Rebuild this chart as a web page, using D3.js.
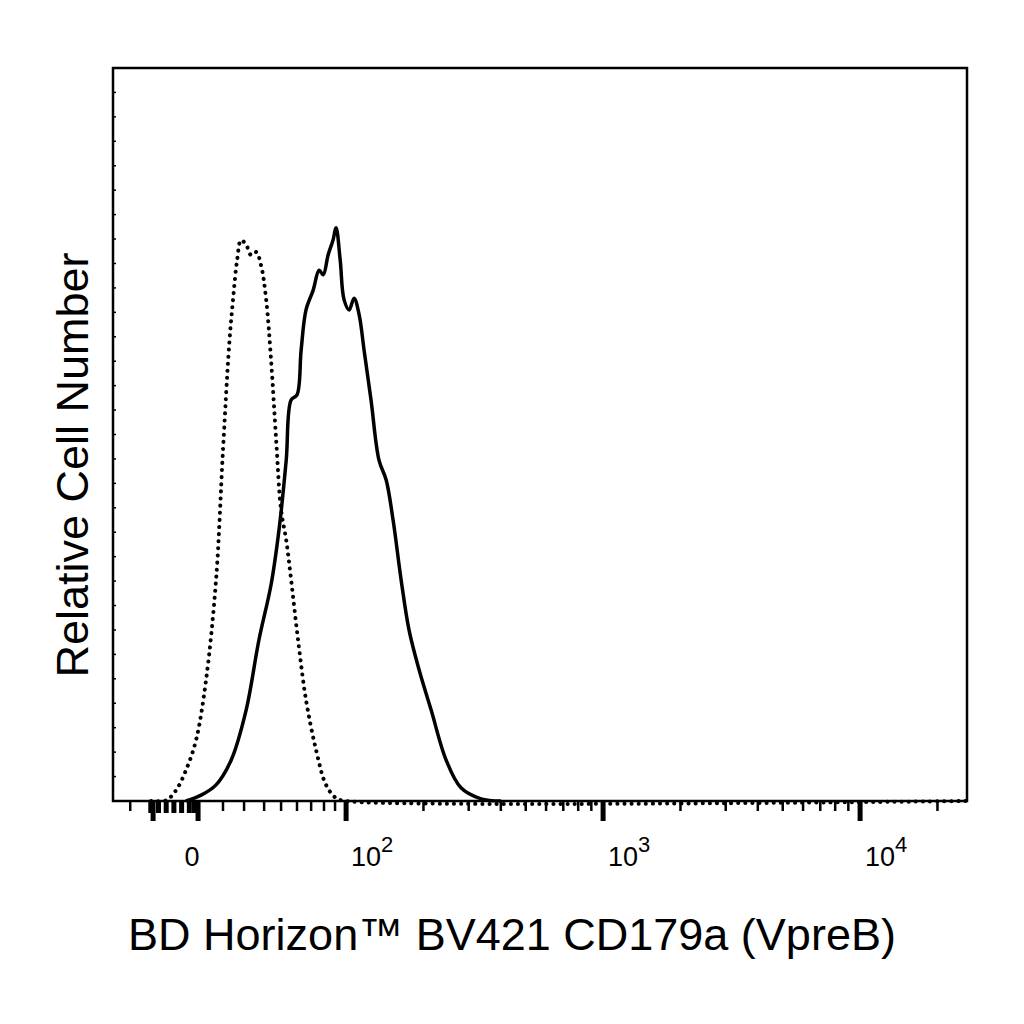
<!DOCTYPE html>
<html><head><meta charset="utf-8">
<script src="https://cdn.jsdelivr.net/npm/d3@7"></script>
<style>body{margin:0;background:#fff}</style>
</head><body><div id="chart"></div>
<script>
// x in display units (decades on the biexponential axis), y in % of plot height
const solidX = [1.377,1.436,1.494,1.553,1.611,1.661,1.708,1.739,1.767,1.786,1.809,1.825,1.844,1.872,1.895,1.911,1.930,1.949,1.961,1.977,1.992,2.012,2.031,2.051,2.070,2.097,2.128,2.156,2.183,2.214,2.245,2.284,2.331,2.389,2.447,2.525,2.603];
const solidY = [0,0.8,2.2,5.6,12.4,22,29.5,37,46.5,54.7,55.4,61.5,67,69.7,72.4,71.8,74.5,76.5,78.2,73.8,68.4,67,68.6,66.3,61.5,54.7,46.5,43.8,38.3,30.2,23.3,17.9,12.4,5.6,1.8,0.3,0];
const dotX = [1.241,1.300,1.339,1.377,1.416,1.455,1.494,1.521,1.545,1.560,1.576,1.591,1.611,1.630,1.650,1.669,1.689,1.708,1.728,1.747,1.767,1.786,1.813,1.844,1.883,1.922,1.961,2.0,4.42];
const dotY = [0,0.1,1.5,4.2,8.3,16.5,30.2,47.9,62.2,68.4,73.8,76.5,75.9,74.5,74.9,73.1,68.4,60.2,49.2,39.7,35.6,30.2,22,13.8,7,2.2,0.4,0,0];

const majorTicks = [1.249, 1.424, 2, 3, 4];
const clusterTicks = [1.24, 1.27, 1.30, 1.33, 1.36, 1.39, 1.41];
const minorTicks = [1.160, 1.521, 1.603, 1.681, 1.747, 1.809, 1.864, 1.914, 1.957]
  .concat([2,3].flatMap(d => [2,3,4,5,6,7,8,9].map(k => d + Math.log10(k))))
  .concat([4 + Math.log10(2)]);
const tickLabels = [{v: 1.424, base: "0", sup: ""}, {v: 2, base: "10", sup: "2"}, {v: 3, base: "10", sup: "3"}, {v: 4, base: "10", sup: "4"}];

const W = 1024, H = 1024;
const m = {left: 113, right: 967, top: 68, bottom: 801};

const x = d3.scaleLinear().domain([1.093, 4.416]).range([m.left, m.right]);
const y = d3.scaleLinear().domain([0, 100]).range([m.bottom, m.top]);

const svg = d3.select("#chart").append("svg").attr("width", W).attr("height", H)
  .style("font-family", "'Liberation Sans', Arial, sans-serif");

svg.append("rect").attr("x", m.left).attr("y", m.top)
  .attr("width", m.right - m.left).attr("height", m.bottom - m.top)
  .attr("fill", "none").attr("stroke", "#000").attr("stroke-width", 2.5);

// y inner ticks
svg.append("g").selectAll("line").data(d3.range(0, 100, 100 / 30)).join("line")
  .attr("x1", m.left).attr("x2", m.left + 3)
  .attr("y1", d => y(d)).attr("y2", d => y(d))
  .attr("stroke", "#000").attr("stroke-width", 1.5);

// x ticks
const xt = svg.append("g");
xt.selectAll(".mi").data(minorTicks).join("line")
  .attr("x1", d => x(d)).attr("x2", d => x(d)).attr("y1", m.bottom).attr("y2", m.bottom + 10)
  .attr("stroke", "#000").attr("stroke-width", 2.5);
xt.selectAll(".cl").data(clusterTicks).join("line")
  .attr("x1", d => x(d)).attr("x2", d => x(d)).attr("y1", m.bottom).attr("y2", m.bottom + 12)
  .attr("stroke", "#000").attr("stroke-width", 5);
xt.selectAll(".ma").data(majorTicks).join("line")
  .attr("x1", d => x(d)).attr("x2", d => x(d)).attr("y1", m.bottom).attr("y2", m.bottom + 20)
  .attr("stroke", "#000").attr("stroke-width", 5);

const lbl = svg.append("g").selectAll("text").data(tickLabels).join("text")
  .attr("x", d => x(d.v) + (d.sup ? 26 : -6)).attr("y", 866)
  .attr("text-anchor", "middle").attr("font-size", 27);
lbl.append("tspan").text(d => d.base);
lbl.append("tspan").attr("dy", -14).attr("font-size", 22).text(d => d.sup);

const line = d3.line().x(d => x(d[0])).y(d => y(d[1])).curve(d3.curveCatmullRom);

svg.append("path").datum(d3.zip(dotX, dotY)).attr("d", line)
  .attr("fill", "none").attr("stroke", "#000").attr("stroke-width", 4)
  .attr("stroke-dasharray", "0.1 7").attr("stroke-linecap", "round");
svg.append("path").datum(d3.zip(solidX, solidY)).attr("d", line)
  .attr("fill", "none").attr("stroke", "#000").attr("stroke-width", 3.5);

svg.append("text").attr("x", 512).attr("y", 950).attr("text-anchor", "middle")
  .attr("font-size", 45).text("BD Horizon™ BV421 CD179a (VpreB)");
svg.append("text").attr("transform", "translate(88,465) rotate(-90)")
  .attr("text-anchor", "middle").attr("font-size", 45).text("Relative Cell Number");
</script></body></html>
